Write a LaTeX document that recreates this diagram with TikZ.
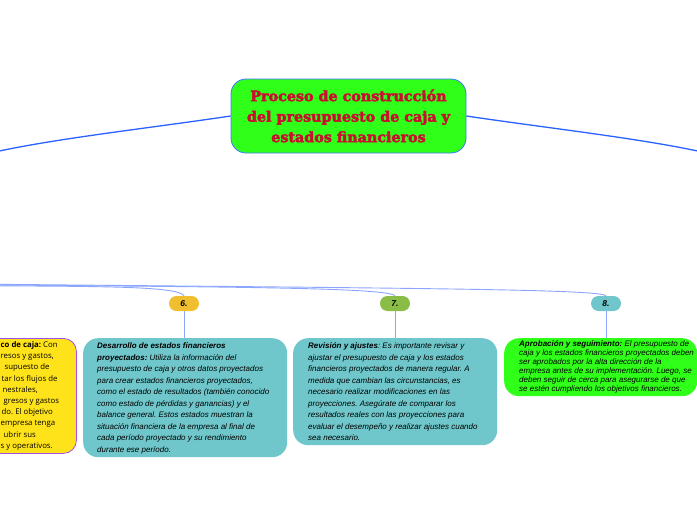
\documentclass[tikz,border=0pt]{standalone}
\usepackage{fontspec}
\setmainfont{Liberation Sans}
\newfontfamily\titlefont{DejaVu Serif}[BoldFeatures={FakeBold=3}]
\newfontfamily\opensans{Open Sans}
\frenchspacing
\definecolor{centralgreen}{RGB}{48,255,26}
\definecolor{titlered}{RGB}{200,16,46}
\definecolor{linkblue}{RGB}{41,98,255}
\definecolor{lightlink}{RGB}{140,165,255}
\definecolor{tealbox}{RGB}{111,199,203}
\definecolor{goldbadge}{RGB}{240,191,48}
\definecolor{olivebadge}{RGB}{138,189,69}
\definecolor{yellowbox}{RGB}{255,227,26}
\definecolor{purpleedge}{RGB}{166,77,232}
\definecolor{centraledge}{RGB}{60,120,255}
\tikzset{
  central/.style={draw=centraledge, line width=0.8pt, fill=centralgreen, rounded corners=15pt,
    minimum width=235pt, minimum height=74pt, inner sep=0pt, align=center,
    text=titlered, font=\titlefont\bfseries\fontsize{14.3}{20.5}\selectfont},
  badge/.style={rounded corners=7.5pt, minimum width=30pt, minimum height=15pt, inner sep=0pt,
    font=\bfseries\itshape\fontsize{8.5}{9}\selectfont},
  boxshape/.style={rounded corners=15pt, inner sep=0pt, anchor=north west},
  boxtext/.style={anchor=north west, inner sep=0pt, align=left,
    font=\itshape\fontsize{8}{11.55}\selectfont},
  bigline/.style={draw=linkblue, line width=1.3pt},
  smallline/.style={draw=lightlink, line width=0.9pt},
}
\begin{document}
\begin{tikzpicture}[x=1pt,y=-1pt]
\path[use as bounding box, clip] (0,0) rectangle (697,520);
\fill[white] (0,0) rectangle (697,520);

% central node
\node[central] (root) at (348.5,116) {Proceso de construcción\\del presupuesto de caja y\\estados financieros};
\coordinate (leftend) at (-2,151.3);
\coordinate (rightend) at (699,151.3);
\draw[bigline] (root.west) .. controls (150,128) and (60,138) .. (leftend);
\draw[bigline] (root.east) .. controls (547,128) and (637,138) .. (rightend);

% badges
\node[badge, fill=goldbadge] (b6) at (184,303.5) {6.};
\node[badge, fill=olivebadge] (b7) at (395,303.5) {7.};
\node[badge, fill=tealbox] (b8) at (606,303.5) {8.};

\coordinate (src1) at (-3,285.8);
\coordinate (src2) at (-3,285.0);
\coordinate (src3) at (-3,284.3);
\draw[smallline] (src1) .. controls (110,286.5) and (178,286.5) .. (b6.north);
\draw[smallline] (src2) .. controls (250,287) and (388,288) .. (b7.north);
\draw[smallline] (src3) .. controls (450,288.5) and (598,289.5) .. (b8.north);

% boxes
\node[boxshape, fill=yellowbox, draw=purpleedge, line width=0.8pt, rounded corners=13pt,
  minimum width=106pt, minimum height=115pt] (box5) at (-30,338) {};
\node[boxshape, fill=tealbox, minimum width=204pt, minimum height=119pt] (box6) at (83,338) {};
\node[boxshape, fill=tealbox, minimum width=204pt, minimum height=107pt] (box7) at (293,338) {};
\node[boxshape, fill=centralgreen, minimum width=193pt, minimum height=58pt] (box8) at (504,338) {};

\draw[smallline] (b6.south) -- (box6.north -| b6.south);
\draw[smallline] (b7.south) -- (box7.north -| b7.south);
\draw[smallline] (b8.south) -- (box8.north -| b8.south);

% texts
\node[anchor=north west, inner sep=0pt, align=left,
  font=\opensans\fontsize{7.8}{11.2}\selectfont] (t5) at (0.5,341.3) {%
\textbf{co de caja:} Con\\
resos y gastos,\\
\hspace*{4pt}supuesto de\\
\hspace*{1pt}tar los flujos de\\
\hspace*{2pt}nestrales,\\
\hspace*{3pt}gresos y gastos\\
\hspace*{1pt}do. El objetivo\\
empresa tenga\\
\hspace*{3pt}ubrir sus\\
s y operativos.};

\node[boxtext] (t6) at (97,342.5) {%
\textbf{Desarrollo de estados financieros}\\
\textbf{proyectados:} Utiliza la información del\\
presupuesto de caja y otros datos proyectados\\
para crear estados financieros proyectados,\\
como el estado de resultados (también conocido\\
como estado de pérdidas y ganancias) y el\\
balance general. Estos estados muestran la\\
situación financiera de la empresa al final de\\
cada período proyectado y su rendimiento\\
durante ese período.};

\node[boxtext] (t7) at (308,342.5) {%
\textbf{Revisión y ajustes}: Es importante revisar y\\
ajustar el presupuesto de caja y los estados\\
financieros proyectados de manera regular. A\\
medida que cambian las circunstancias, es\\
necesario realizar modificaciones en las\\
proyecciones. Asegúrate de comparar los\\
resultados reales con las proyecciones para\\
evaluar el desempeño y realizar ajustes cuando\\
sea necesario.};

\node[boxtext, font=\itshape\fontsize{8}{9.1}\selectfont] (t8) at (519,340) {%
\textbf{Aprobación y seguimiento:} El presupuesto de\\
caja y los estados financieros proyectados deben\\
ser aprobados por la alta dirección de la\\
empresa antes de su implementación. Luego, se\\
deben seguir de cerca para asegurarse de que\\
se estén cumpliendo los objetivos financieros.};
\end{tikzpicture}
\end{document}
